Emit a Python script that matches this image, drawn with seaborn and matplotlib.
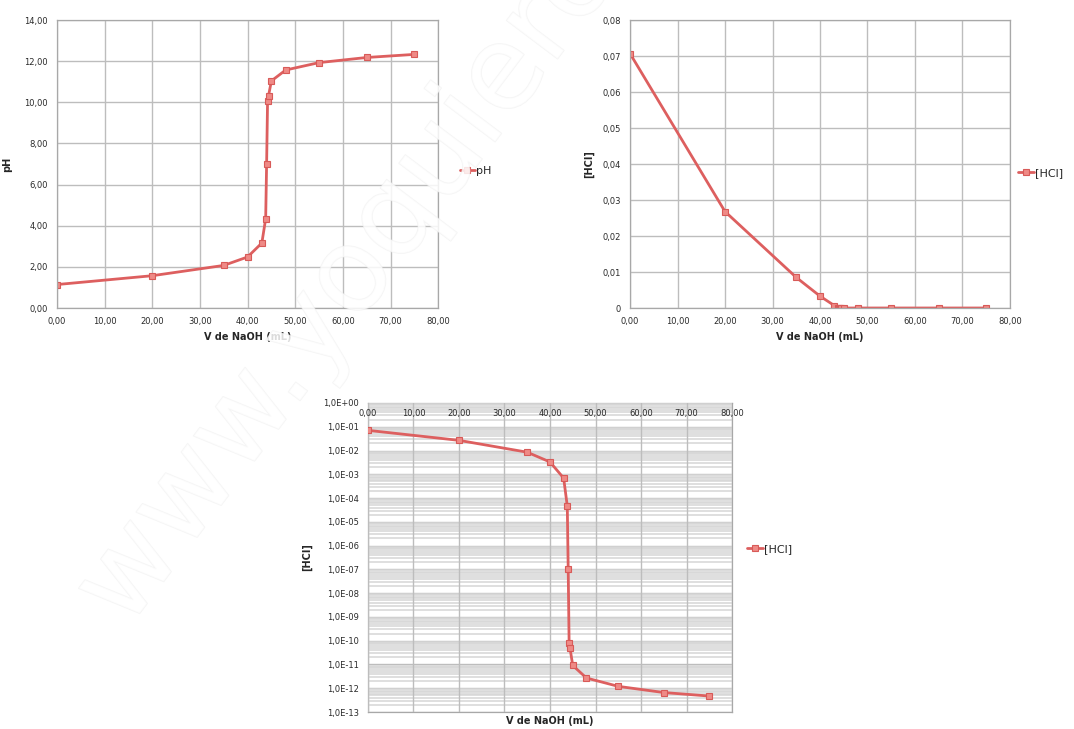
import matplotlib
matplotlib.use('Agg')
import matplotlib.pyplot as plt
import matplotlib.patheffects as pe
from matplotlib.ticker import FuncFormatter, MultipleLocator, LogLocator, NullFormatter
import seaborn as sns
import pandas as pd

# volumen de NaOH añadido (mL)
vol = [0, 20, 35, 40, 43, 43.8, 44.0, 44.2, 44.4, 45, 48, 55, 65, 75]
# pH leido
ph = [1.14, 1.57, 2.07, 2.48, 3.16, 4.34, 7.00, 10.08, 10.32, 11.04, 11.57, 11.93, 12.18, 12.33]
# [HCl] en mol/L
hcl = [0.0707, 0.0268, 0.0085, 0.0033, 6.9e-4, 4.6e-5, 1.0e-7,
       8.3e-11, 4.8e-11, 9.1e-12, 2.7e-12, 1.2e-12, 6.6e-13, 4.7e-13]

df = pd.DataFrame({'V': vol, 'pH': ph, 'HCl': hcl})

sns.set_theme(style='white')
plt.rcParams['font.family'] = ['DejaVu Sans']

line_c = '#dd5f5f'
mk = dict(marker='s', markersize=5, markerfacecolor='#ef8a86',
          markeredgecolor='#d85a58', markeredgewidth=0.8)
grid_c = '#bdbdbd'
tick_c = '#2a2a2a'

fig = plt.figure(figsize=(10.74, 7.29), dpi=100)
ax1 = fig.add_axes([0.053, 0.5775, 0.355, 0.395])
ax2 = fig.add_axes([0.5866, 0.5775, 0.3538, 0.395])
ax3 = fig.add_axes([0.3426, 0.0233, 0.339, 0.4239])

comma2 = FuncFormatter(lambda v, p: f"{v:.2f}".replace('.', ','))


def style(ax):
    for s in ax.spines.values():
        s.set_color('#a8a8a8')
        s.set_linewidth(0.9)
    ax.grid(True, color=grid_c, linewidth=1.0)
    ax.tick_params(labelsize=6, colors=tick_c, length=3, width=0.8, color='#a8a8a8')
    ax.set_xlim(0, 80)
    ax.xaxis.set_major_locator(MultipleLocator(10))
    ax.xaxis.set_major_formatter(comma2)
    ax.set_axisbelow(True)


# pH
sns.lineplot(data=df, x='V', y='pH', ax=ax1, color=line_c, linewidth=2, label='pH', **mk)
style(ax1)
ax1.set_ylim(0, 14)
ax1.yaxis.set_major_locator(MultipleLocator(2))
ax1.yaxis.set_major_formatter(comma2)
ax1.set_xlabel('V de NaOH (mL)', fontsize=7, fontweight='bold', labelpad=4)
ax1.set_ylabel('pH', fontsize=7, fontweight='bold', labelpad=9)
ax1.legend(loc='center left', bbox_to_anchor=(1.03, 0.475), frameon=False,
           fontsize=8, handlelength=1.4, handletextpad=0.1)

# [HCl] lineal
sns.lineplot(data=df, x='V', y='HCl', ax=ax2, color=line_c, linewidth=2, label='[HCl]', **mk)
style(ax2)
ax2.set_ylim(0, 0.08)
ax2.yaxis.set_major_locator(MultipleLocator(0.01))
ax2.yaxis.set_major_formatter(FuncFormatter(
    lambda v, p: '0' if abs(v) < 1e-9 else f"{v:.2f}".replace('.', ',')))
ax2.set_xlabel('V de NaOH (mL)', fontsize=7, fontweight='bold', labelpad=4)
ax2.set_ylabel('[HCl]', fontsize=7, fontweight='bold', labelpad=6)
ax2.legend(loc='center left', bbox_to_anchor=(0.995, 0.47), frameon=False,
           fontsize=8, handlelength=1.4, handletextpad=0.1)

# [HCl] logaritmica
sns.lineplot(data=df, x='V', y='HCl', ax=ax3, color=line_c, linewidth=2, label='[HCl]',
             zorder=5, **mk)
ax3.set_yscale('log')
style(ax3)
ax3.set_axisbelow(False)
ax3.set_ylim(1e-13, 1)
ax3.yaxis.set_major_locator(LogLocator(base=10, numticks=20))
ax3.yaxis.set_minor_locator(LogLocator(base=10, subs=range(2, 10), numticks=200))
ax3.yaxis.set_minor_formatter(NullFormatter())
ax3.yaxis.set_major_formatter(FuncFormatter(lambda v, p: f"{v:.1E}".replace('.', ',')))
ax3.grid(True, which='minor', axis='y', color='#d6d6d6', linewidth=1.1)
ax3.tick_params(axis='y', which='minor', length=0)
ax3.xaxis.set_ticks_position('top')
ax3.xaxis.set_label_position('bottom')
ax3.tick_params(axis='x', pad=-11, length=0)
ax3.xaxis.set_zorder(4)
ax3.set_xlabel('V de NaOH (mL)', fontsize=7, fontweight='bold', labelpad=3)
ax3.set_ylabel('[HCl]', fontsize=7, fontweight='bold', labelpad=8)
ax3.legend(loc='center left', bbox_to_anchor=(1.015, 0.527), frameon=False,
           fontsize=8, handlelength=1.4, handletextpad=0.1)

# marca de agua
fig.text(0.118, 0.135, 'www.yoquieroaprobar.es', rotation=53, rotation_mode='anchor',
         ha='left', va='baseline', fontsize=84, color='white', alpha=0.6, zorder=10,
         path_effects=[pe.withStroke(linewidth=1.0, foreground='#eeeeee')])

fig.savefig('out.png', dpi=100)
